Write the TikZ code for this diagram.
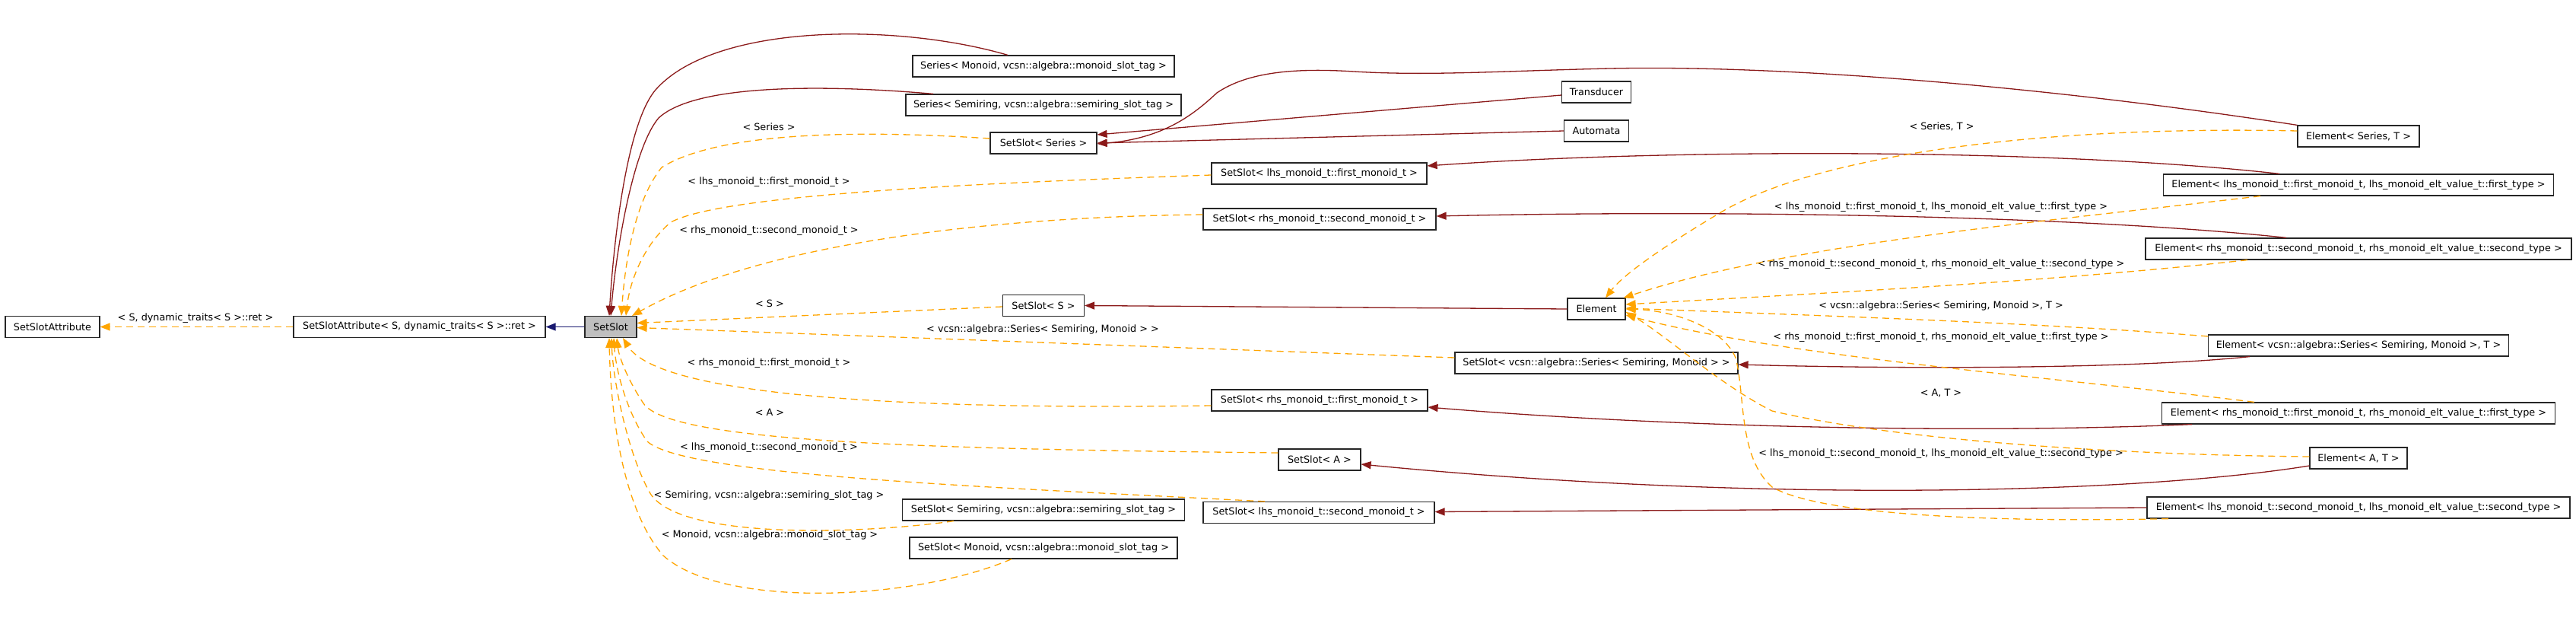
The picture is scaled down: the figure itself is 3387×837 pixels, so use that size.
\documentclass[tikz,border=0pt]{standalone}
\usepackage{fontspec}
\setmainfont{DejaVu Sans}
\usepackage{xcolor}
\usepackage{tikz}
\usetikzlibrary{arrows.meta}
\definecolor{inhred}{HTML}{8B1A1A}
\definecolor{pubblue}{HTML}{191970}
\definecolor{tplorange}{HTML}{FFA500}
\definecolor{slotgray}{HTML}{BFBFBF}

\begin{document}
\begin{tikzpicture}[
    x=1pt, y=-1pt,
    every node/.style={font=\fontsize{12.8}{15}\selectfont},
    box/.style={draw=black!85, line width=1.2pt, fill=white, minimum height=28pt, inner xsep=10pt, inner ysep=0pt},
    basebox/.style={box, fill=slotgray},
    lbl/.style={inner sep=1pt},
    inh/.style={-{Triangle[length=13pt,width=10pt]}, inhred, line width=1.3pt},
    pub/.style={-{Triangle[length=13pt,width=10pt]}, pubblue, line width=1.3pt},
    tpl/.style={-{Triangle[length=13pt,width=10pt]}, tplorange, line width=1.3pt, dash pattern=on 9pt off 6pt}
]
\useasboundingbox (0,0) rectangle (3387,837);

% classes
\node[box, minimum width=124pt] (sa) at (69,429.5) {SetSlotAttribute};
\node[box, minimum width=331pt] (sainst) at (551.5,429.5) {SetSlotAttribute< S, dynamic\_traits< S >::ret >};
\node[basebox, minimum width=68pt] (setslot) at (803,429.5) {SetSlot};

\node[box, minimum width=344pt] (serm) at (1372,87) {Series< Monoid, vcsn::algebra::monoid\_slot\_tag >};
\node[box, minimum width=362pt] (sers) at (1372,138) {Series< Semiring, vcsn::algebra::semiring\_slot\_tag >};
\node[box, minimum width=140pt] (ssseries) at (1372,188) {SetSlot< Series >};
\node[box, minimum width=107pt] (ssS) at (1372,401.5) {SetSlot< S >};
\node[box, minimum width=371pt] (sssemi) at (1372,670) {SetSlot< Semiring, vcsn::algebra::semiring\_slot\_tag >};
\node[box, minimum width=352pt] (ssmon) at (1372,720) {SetSlot< Monoid, vcsn::algebra::monoid\_slot\_tag >};

\node[box, minimum width=283pt] (sslf) at (1734.5,228) {SetSlot< lhs\_monoid\_t::first\_monoid\_t >};
\node[box, minimum width=306pt] (ssrs) at (1735,288) {SetSlot< rhs\_monoid\_t::second\_monoid\_t >};
\node[box, minimum width=284pt] (ssrf) at (1735,526) {SetSlot< rhs\_monoid\_t::first\_monoid\_t >};
\node[box, minimum width=108pt] (ssA) at (1735,604) {SetSlot< A >};
\node[box, minimum width=304pt] (ssls) at (1734,673.5) {SetSlot< lhs\_monoid\_t::second\_monoid\_t >};

\node[box, minimum width=91pt] (trans) at (2099,121) {Transducer};
\node[box, minimum width=85pt] (autom) at (2099,172) {Automata};
\node[box, minimum width=76pt] (elem) at (2099,406) {Element};
\node[box, minimum width=372pt] (ssvs) at (2099,477) {SetSlot< vcsn::algebra::Series< Semiring, Monoid > >};

\node[box, minimum width=160pt] (eST) at (3101,179) {Element< Series, T >};
\node[box, minimum width=513pt] (elf) at (3101,243) {Element< lhs\_monoid\_t::first\_monoid\_t, lhs\_monoid\_elt\_value\_t::first\_type >};
\node[box, minimum width=560pt] (ers) at (3101,327) {Element< rhs\_monoid\_t::second\_monoid\_t, rhs\_monoid\_elt\_value\_t::second\_type >};
\node[box, minimum width=393pt] (evs) at (3101,454) {Element< vcsn::algebra::Series< Semiring, Monoid >, T >};
\node[box, minimum width=517pt] (erf) at (3101,543) {Element< rhs\_monoid\_t::first\_monoid\_t, rhs\_monoid\_elt\_value\_t::first\_type >};
\node[box, minimum width=128pt] (eAT) at (3101,602) {Element< A, T >};
\node[box, minimum width=556pt] (els) at (3101,667) {Element< lhs\_monoid\_t::second\_monoid\_t, lhs\_monoid\_elt\_value\_t::second\_type >};

% template arguments
\node[lbl] (l-sa) at (257,418) {< S, dynamic\_traits< S >::ret >};
\node[lbl] (l-series) at (1011,167) {< Series >};
\node[lbl] (l-lf) at (1011,239) {< lhs\_monoid\_t::first\_monoid\_t >};
\node[lbl] (l-rs) at (1011,303) {< rhs\_monoid\_t::second\_monoid\_t >};
\node[lbl] (l-S) at (1012,399) {< S >};
\node[lbl] (l-vs) at (1371,433) {< vcsn::algebra::Series< Semiring, Monoid > >};
\node[lbl] (l-rf) at (1011,477) {< rhs\_monoid\_t::first\_monoid\_t >};
\node[lbl] (l-A) at (1012,542) {< A >};
\node[lbl] (l-ls) at (1011,588) {< lhs\_monoid\_t::second\_monoid\_t >};
\node[lbl] (l-semi) at (1011,651) {< Semiring, vcsn::algebra::semiring\_slot\_tag >};
\node[lbl] (l-mon) at (1012,703) {< Monoid, vcsn::algebra::monoid\_slot\_tag >};

\node[lbl] (l-eST) at (2553,166) {< Series, T >};
\node[lbl] (l-elf) at (2552,272) {< lhs\_monoid\_t::first\_monoid\_t, lhs\_monoid\_elt\_value\_t::first\_type >};
\node[lbl] (l-ers) at (2552,347) {< rhs\_monoid\_t::second\_monoid\_t, rhs\_monoid\_elt\_value\_t::second\_type >};
\node[lbl] (l-evs) at (2552,402) {< vcsn::algebra::Series< Semiring, Monoid >, T >};
\node[lbl] (l-erf) at (2552,443) {< rhs\_monoid\_t::first\_monoid\_t, rhs\_monoid\_elt\_value\_t::first\_type >};
\node[lbl] (l-eAT) at (2552,517) {< A, T >};
\node[lbl] (l-els) at (2552,596) {< lhs\_monoid\_t::second\_monoid\_t, lhs\_monoid\_elt\_value\_t::second\_type >};

% left part
\draw[tpl] (sainst.west) -- (sa.east);
\draw[pub] (setslot.west) -- (sainst.east);

% into SetSlot
\draw[inh] ([xshift=-47pt]serm.north) .. controls (1180,30) and (940,30) .. (862,118) .. controls (822,165) and (806,330) .. ([xshift=-2pt]setslot.north);
\draw[inh] ([xshift=-145pt]sers.north) .. controls (1120,114) and (920,105) .. (866,155) .. controls (832,195) and (810,330) .. (setslot.north);
\draw[tpl] ([yshift=6pt]ssseries.west) .. controls (1150,172) and (950,170) .. (870,220) .. controls (836,262) and (822,340) .. ([xshift=14pt]setslot.north);
\draw[tpl] ([yshift=-2pt]sslf.west) .. controls (1300,240) and (950,255) .. (882,292) .. controls (846,322) and (828,370) .. ([xshift=20pt]setslot.north);
\draw[tpl] ([yshift=6pt]ssrs.west) .. controls (1300,285) and (1000,320) .. ([xshift=28pt]setslot.north);
\draw[tpl] ([yshift=-1.5pt]ssS.west) -- ([yshift=5pt]setslot.east);
\draw[tpl] ([yshift=7pt]ssvs.west) .. controls (1500,455) and (1100,440) .. ([yshift=-1pt]setslot.east);
\draw[tpl] ([yshift=-7pt]ssrf.west) .. controls (1100,540) and (860,510) .. ([xshift=16pt]setslot.south);
\draw[tpl] ([yshift=9pt]ssA.west) .. controls (1200,590) and (880,580) .. (846,530) .. controls (826,500) and (814,470) .. ([xshift=8pt]setslot.south);
\draw[tpl] ([xshift=-71pt]ssls.north) .. controls (1300,640) and (900,625) .. (851,580) .. controls (826,545) and (810,490) .. ([xshift=4pt]setslot.south);
\draw[tpl] ([xshift=-118pt]sssemi.south) .. controls (1150,700) and (900,712) .. (856,650) .. controls (826,600) and (806,500) .. ([xshift=1pt]setslot.south);
\draw[tpl] ([xshift=-42pt]ssmon.south) .. controls (1200,790) and (950,800) .. (872,730) .. controls (820,670) and (803,550) .. ([xshift=-2pt]setslot.south);

% into the SetSlot instances
\draw[inh] ([yshift=-4pt]trans.west) -- ([yshift=11pt]ssseries.east);
\draw[inh] (autom.west) -- (ssseries.east);
\draw[inh] (eST.north west) .. controls (2700,115) and (2350,85) .. (2117,90) .. controls (1980,93) and (1880,100) .. (1780,94) .. controls (1700,89) and (1640,95) .. (1600,122) .. controls (1570,150) and (1530,182) .. ([yshift=-1pt]ssseries.east);
\draw[inh] ([xshift=-104pt]elf.north) .. controls (2700,195) and (2200,195) .. ([yshift=10pt]sslf.east);
\draw[inh] ([xshift=-95pt]ers.north) .. controls (2750,285) and (2300,275) .. ([yshift=4pt]ssrs.east);
\draw[inh] (elem.west) -- (ssS.east);
\draw[inh] ([xshift=-143pt]evs.south) .. controls (2800,485) and (2500,485) .. ([yshift=-2pt]ssvs.east);
\draw[inh] ([xshift=-219pt]erf.south) .. controls (2600,570) and (2200,562) .. ([yshift=-9pt]ssrf.east);
\draw[inh] ([yshift=-10pt]eAT.west) .. controls (2800,650) and (2300,660) .. ([yshift=-6pt]ssA.east);
\draw[inh] (els.west) -- ([yshift=1pt]ssls.east);

% into Element
\draw[tpl] ([yshift=7pt]eST.west) .. controls (2700,165) and (2400,200) .. (2266,277) .. controls (2190,322) and (2135,360) .. ([xshift=12pt]elem.north);
\draw[tpl] ([xshift=-129pt]elf.south) .. controls (2700,290) and (2350,320) .. ([xshift=-3pt]elem.north east);
\draw[tpl] ([xshift=-146pt]ers.south) .. controls (2700,370) and (2400,385) .. ([yshift=6pt]elem.east);
\draw[tpl] ([yshift=12pt]evs.west) .. controls (2700,425) and (2400,415) .. ([yshift=1pt]elem.east);
\draw[tpl] ([xshift=-137pt]erf.north) .. controls (2700,495) and (2350,470) .. ([yshift=-8pt]elem.east);
\draw[tpl] ([yshift=2pt]eAT.west) .. controls (2800,598) and (2500,580) .. (2330,540) .. controls (2260,505) and (2190,440) .. ([yshift=-4pt]elem.east);
\draw[tpl] ([xshift=-250pt]els.south) .. controls (2650,686) and (2400,680) .. (2330,640) .. controls (2285,600) and (2295,520) .. (2282,470) .. controls (2265,430) and (2200,408) .. (elem.east);
\end{tikzpicture}
\end{document}
